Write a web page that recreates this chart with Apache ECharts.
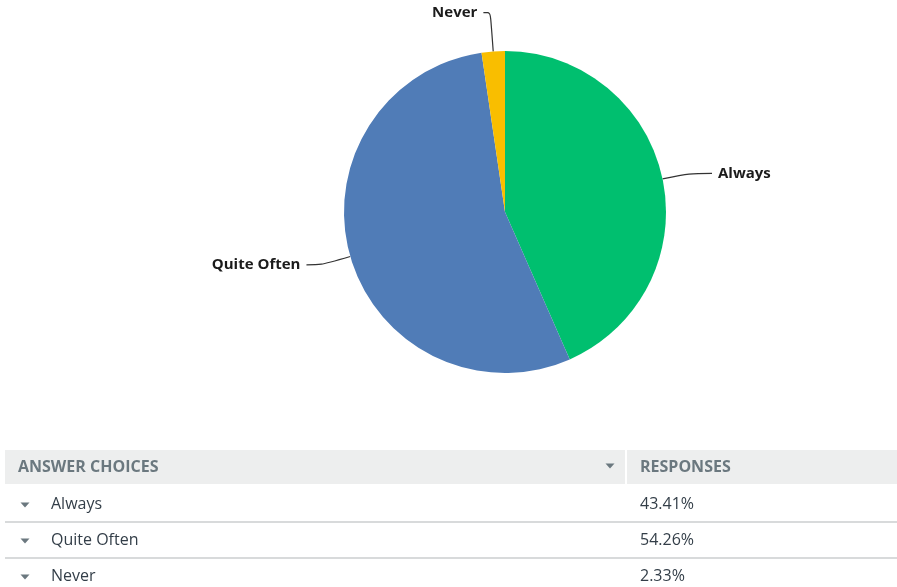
<!DOCTYPE html>
<html><head><meta charset="utf-8">
<script src="https://cdn.jsdelivr.net/npm/echarts@6/dist/echarts.min.js"></script>
<style>html,body{margin:0;padding:0;background:#fff}#c{width:897px;height:587px}</style>
</head><body><div id="c"></div>
<script>
const categories = ['Always', 'Quite Often', 'Never'];
const values = [43.41, 54.26, 2.33];
const colors = ['#00bf6f', '#507cb7', '#f9be00'];
const headers = ['ANSWER CHOICES', 'RESPONSES'];

const chart = echarts.init(document.getElementById('c'));
const lineCfg = [
  {length: 27, length2: 23},
  {length: 30, length2: 15},
  {length: 39, length2: 7}
];
const tri = (cx, cy, col) => ({
  type: 'polygon',
  shape: {points: [[cx - 4.5, cy - 2.5], [cx + 4.5, cy - 2.5], [cx, cy + 2.5]]},
  style: {fill: col}
});
const graphics = [
  {type: 'rect', shape: {x: 5, y: 450, width: 892, height: 34}, style: {fill: '#edeeee'}},
  {type: 'rect', shape: {x: 625, y: 450, width: 2, height: 34}, style: {fill: '#ffffff'}},
  {type: 'text', x: 18, y: 467, style: {text: headers[0], font: 'bold 16px "Open Sans"', fill: '#6b787f', verticalAlign: 'middle'}},
  {type: 'text', x: 640, y: 467, style: {text: headers[1], font: 'bold 16px "Open Sans"', fill: '#6b787f', verticalAlign: 'middle'}},
  tri(610, 466, '#6b787f')
];
categories.forEach((c, i) => {
  const y = 504 + i * 36;
  graphics.push(tri(25, y + 1, '#6b787f'));
  graphics.push({type: 'text', x: 51, y: y, style: {text: c, font: '16px "Open Sans"', fill: '#333e48', verticalAlign: 'middle'}});
  graphics.push({type: 'text', x: 640, y: y, style: {text: values[i].toFixed(2) + '%', font: '16px "Open Sans"', fill: '#333e48', verticalAlign: 'middle'}});
  if (i < categories.length - 1) {
    graphics.push({type: 'rect', shape: {x: 5, y: y + 17, width: 892, height: 2}, style: {fill: '#d8dadb'}});
  }
});

chart.setOption({
  animation: false,
  graphic: graphics,
  series: [{
    type: 'pie',
    center: [505, 212],
    radius: 161,
    startAngle: 90,
    clockwise: true,
    avoidLabelOverlap: false,
    itemStyle: {borderWidth: 0},
    label: {
      show: true,
      formatter: '{b}',
      color: '#1b1b1b',
      fontFamily: 'Open Sans',
      fontWeight: 'bold',
      fontSize: 15,
      distanceToLabelLine: 6
    },
    labelLine: {show: true, smooth: 0.3, lineStyle: {color: '#333', width: 1.2}},
    emphasis: {disabled: true},
    data: categories.map((c, i) => ({
      name: c,
      value: values[i],
      itemStyle: {color: colors[i]},
      labelLine: lineCfg[i]
    }))
  }]
});
</script></body></html>
